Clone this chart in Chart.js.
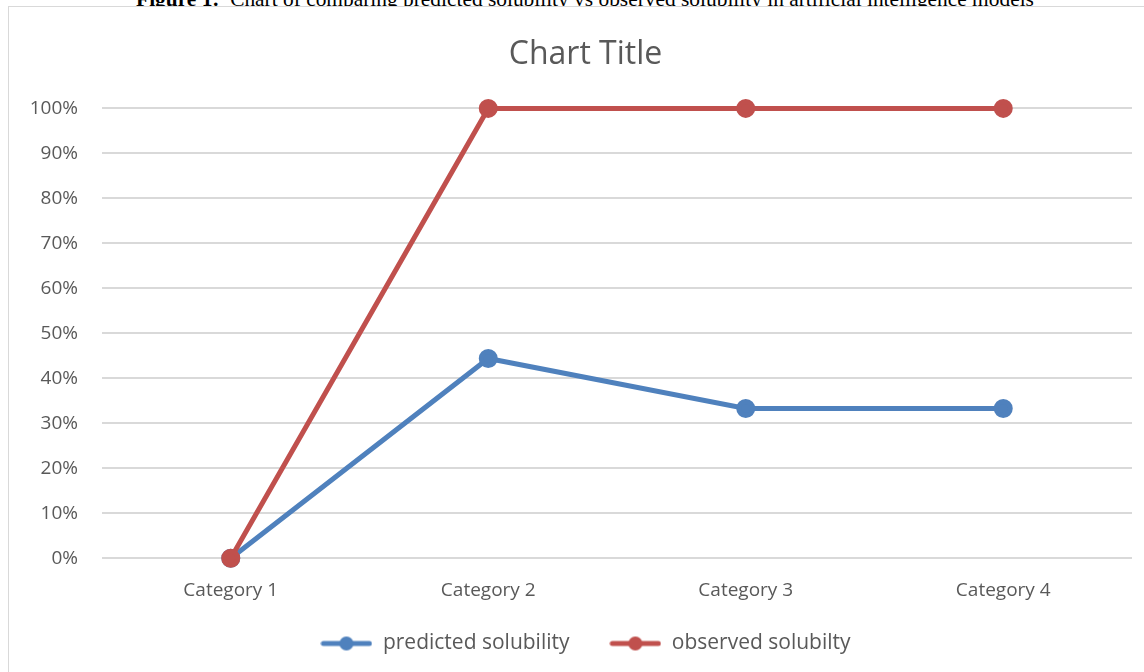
<!DOCTYPE html>
<html>
<head>
<meta charset="utf-8">
<script src="https://cdn.jsdelivr.net/npm/chart.js@4"></script>
<style>
    html, body { margin: 0; padding: 0; background: #fff; overflow: hidden; }
    #caption {
        position: absolute; left: 0; width: 1170px; top: -13px;
        text-align: center; font-family: "Liberation Serif", "Times New Roman", "DejaVu Serif", serif;
        font-size: 21.4px; color: #000; white-space: nowrap;
    }
    #box {
        position: absolute; left: 8px; top: 6px; width: 1170px; height: 680px;
        border: 1px solid #d9d9d9; background: #fff;
    }
    #wrap { position: absolute; left: 0; top: 0; width: 1153px; height: 666px; }
</style>
</head>
<body>
<div id="caption"><b>Figure 1:</b>&nbsp; Chart of comparing predicted solubility vs observed solubility in artificial intelligence models</div>
<div id="box"><div id="wrap"><canvas id="solChart"></canvas></div></div>
<script>
const categories = ['Category 1', 'Category 2', 'Category 3', 'Category 4'];
const predicted = [0, 0.444, 0.333, 0.333];
const observed = [0, 1, 1, 1];
const seriesNames = ['predicted solubility', 'observed solubilty'];
const seriesColors = ['#4f81bd', '#c0504d'];

// little line + dot picture for the legend, like excel draws it
function legendIcon(color) {
    const c = document.createElement('canvas');
    c.width = 52; c.height = 16;
    const g = c.getContext('2d');
    g.strokeStyle = color; g.lineWidth = 5; g.lineCap = 'round';
    g.beginPath(); g.moveTo(3, 8); g.lineTo(49, 8); g.stroke();
    g.fillStyle = color;
    g.beginPath(); g.arc(26, 8, 7, 0, Math.PI * 2); g.fill();
    return c;
}

const ctx = document.getElementById('solChart').getContext('2d');
new Chart(ctx, {
    type: 'line',
    data: {
        labels: categories,
        datasets: [predicted, observed].map((vals, i) => ({
            label: seriesNames[i],
            data: vals,
            borderColor: seriesColors[i],
            backgroundColor: seriesColors[i],
            borderWidth: 5,
            pointRadius: 7,
            pointHoverRadius: 7,
            tension: 0,
            clip: false,
            order: i === 0 ? 1 : 0   // observed sits on top of predicted
        }))
    },
    options: {
        responsive: true,
        maintainAspectRatio: false,
        animation: false,
        layout: { padding: { left: 30, right: 30, top: 29, bottom: 9 } },
        plugins: {
            title: {
                display: true,
                text: 'Chart Title',
                color: '#595959',
                font: { family: 'Open Sans', size: 32, weight: 'normal' },
                padding: { top: 0, bottom: 34 }
            },
            legend: {
                position: 'bottom',
                labels: {
                    usePointStyle: true,
                    pointStyleWidth: 52,
                    boxHeight: 16,
                    padding: 18,
                    color: '#595959',
                    font: { family: 'Open Sans', size: 21 },
                    // trailing spaces widen the gap between the two entries
                    generateLabels: chart => chart.data.datasets.map((ds, i) => ({
                        text: i === 0 ? ds.label + '    ' : ds.label,
                        pointStyle: legendIcon(seriesColors[i]),
                        fontColor: '#595959',
                        lineWidth: 0,
                        strokeStyle: 'transparent',
                        datasetIndex: i
                    }))
                }
            },
            tooltip: { enabled: false }
        },
        scales: {
            x: {
                offset: true,
                grid: { display: false },
                border: { display: false },
                ticks: { color: '#595959', font: { family: 'Open Sans', size: 19 }, padding: 13 }
            },
            y: {
                min: 0,
                max: 1,
                border: { display: false },
                grid: { color: '#d9d9d9', lineWidth: 2, drawTicks: false },
                afterFit: scale => {
                    scale.width = 63;
                    // narrow axis: let the % labels run past its left edge
                    scale._computeLabelArea = () => undefined;
                },
                ticks: {
                    stepSize: 0.1,
                    color: '#595959',
                    padding: 24,
                    font: { family: 'Open Sans', size: 19 },
                    callback: v => Math.round(v * 100) + '%'
                }
            }
        }
    }
});
</script>
</body>
</html>
